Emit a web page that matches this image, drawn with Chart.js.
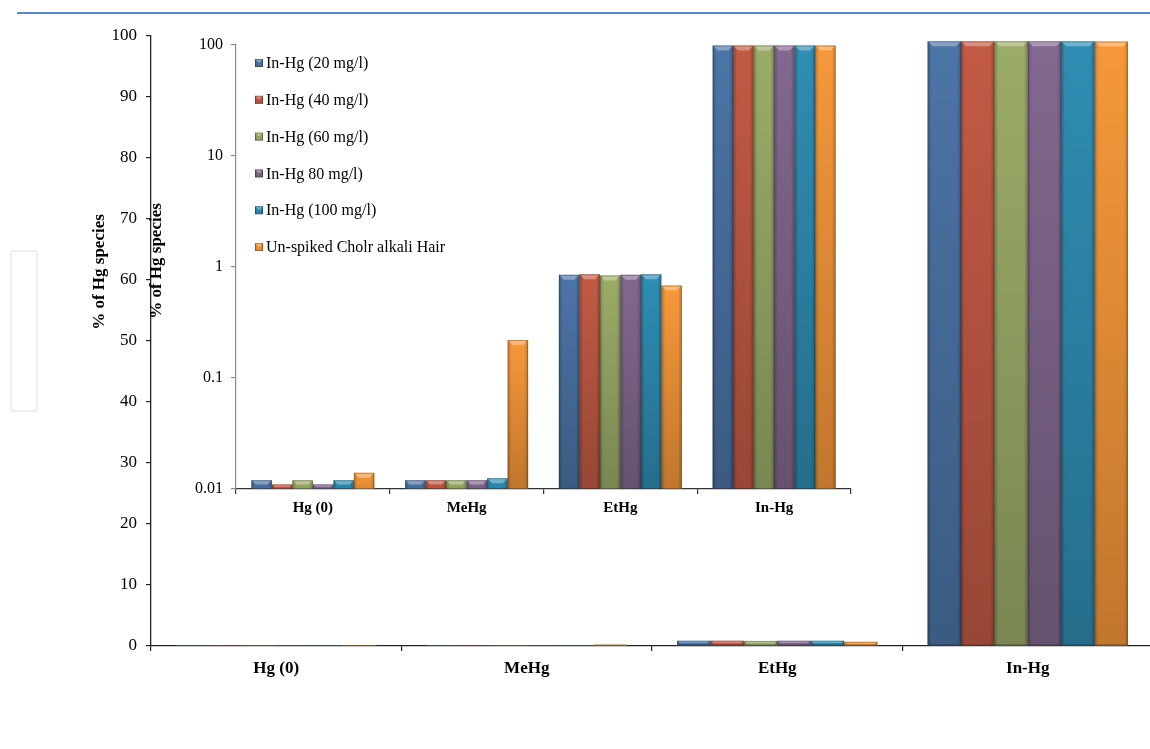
<!DOCTYPE html>
<html>
<head>
<meta charset="utf-8">
<script src="https://cdn.jsdelivr.net/npm/chart.js@4.4.1/dist/chart.umd.min.js"></script>
<style>
  html, body { margin: 0; padding: 0; background: #fff; overflow: hidden; width: 1150px; height: 749px; }
  #wrap { position: relative; width: 1150px; height: 749px; overflow: hidden; }
  #wrap canvas { position: absolute; left: 0; top: 0; }
  #rule { position: absolute; left: 17px; top: 12px; width: 1140px; border-top: 2px solid #5b86bf; }
  #tab { position: absolute; left: 10px; top: 250px; width: 24px; height: 158px; border: 2px solid #efefef; border-radius: 3px; }
</style>
</head>
<body>
<div id="wrap">
  <div id="rule"></div>
  <div id="tab"></div>
  <canvas id="main" width="1154" height="749"></canvas>
  <canvas id="inset" width="1150" height="749"></canvas>
</div>
<script>
// Hg species categories and the six sample series (% of total Hg)
const categories = ['Hg (0)', 'MeHg', 'EtHg', 'In-Hg'];
const seriesNames = ['In-Hg (20 mg/l)', 'In-Hg (40 mg/l)', 'In-Hg (60 mg/l)', 'In-Hg 80 mg/l)', 'In-Hg (100 mg/l)', 'Un-spiked Cholr alkali Hair'];
const inHg20  = [0.012, 0.012,  0.85, 99.13];
const inHg40  = [0.011, 0.012,  0.86, 99.12];
const inHg60  = [0.012, 0.012,  0.84, 99.14];
const inHg80  = [0.011, 0.012,  0.85, 99.13];
const inHg100 = [0.012, 0.0125, 0.86, 99.12];
const unspiked = [0.014, 0.22,  0.68, 99.09];
const linearTicks = [0, 10, 20, 30, 40, 50, 60, 70, 80, 90, 100];
const logTickValues = [0.01, 0.1, 1, 10, 100];
const logTickLabels = ['0.01', '0.1', '1', '10', '100'];
const axisTitle = '% of Hg species';

const seriesValues = [inHg20, inHg40, inHg60, inHg80, inHg100, unspiked];
const palette = ['#4c74a6', '#c25a45', '#9bac68', '#82688f', '#2f8db3', '#f6983a'];
const serif = '"Liberation Serif", "Times New Roman", serif';

function makeDatasets() {
  return seriesNames.map((name, i) => ({
    label: name,
    data: seriesValues[i],
    backgroundColor: palette[i],
    borderWidth: 0,
    categoryPercentage: 0.8,
    barPercentage: 1.0
  }));
}

// Bevelled face for a bar or legend swatch: darker towards the bottom, light top bevel, thin outline
function shadeBar(ctx, left, top, w, h) {
  if (h <= 0 || w <= 0) return;
  ctx.save();
  if (h > 3) {
    const g = ctx.createLinearGradient(0, top, 0, top + h);
    g.addColorStop(0, 'rgba(0,0,0,0)');
    g.addColorStop(1, 'rgba(0,0,0,' + Math.min(0.22, h / 400 + 0.06) + ')');
    ctx.fillStyle = g;
    ctx.fillRect(left, top, w, h);
    const side = Math.min(3, w / 6);
    ctx.fillStyle = 'rgba(0,0,0,0.10)';
    ctx.fillRect(left, top, side, h);
    ctx.fillRect(left + w - side, top, side, h);
  }
  const b = Math.max(1, Math.min(5, h / 2));
  ctx.beginPath();
  ctx.moveTo(left, top);
  ctx.lineTo(left + w, top);
  ctx.lineTo(left + w - b, top + b);
  ctx.lineTo(left + b, top + b);
  ctx.closePath();
  ctx.fillStyle = 'rgba(255,255,255,0.33)';
  ctx.fill();
  ctx.strokeStyle = 'rgba(0,0,0,0.28)';
  ctx.lineWidth = 1;
  ctx.strokeRect(left + 0.5, top + 0.5, w - 1, Math.max(0, h - 1));
  ctx.restore();
}

const bevelPlugin = {
  id: 'bevel',
  afterDatasetsDraw(chart) {
    const ctx = chart.ctx;
    const area = chart.chartArea;
    ctx.save();
    ctx.beginPath();
    ctx.rect(area.left, area.top - 2, area.right - area.left, area.bottom - area.top + 2);
    ctx.clip();
    chart.data.datasets.forEach((ds, i) => {
      chart.getDatasetMeta(i).data.forEach(bar => {
        const p = bar.getProps(['x', 'y', 'base', 'width'], true);
        const top = Math.min(p.y, p.base);
        const h = Math.abs(p.base - p.y);
        shadeBar(ctx, p.x - p.width / 2, top, p.width, h);
      });
    });
    ctx.restore();
  }
};

// Rotated value-axis title, placed beside the y axis
const sideTitle = {
  id: 'sideTitle',
  afterDraw(chart, args, opts) {
    const ctx = chart.ctx;
    const area = chart.chartArea;
    ctx.save();
    ctx.translate(area.left - opts.dx, area.top + opts.dy);
    ctx.rotate(-Math.PI / 2);
    ctx.font = 'bold ' + opts.size + 'px ' + serif;
    ctx.fillStyle = '#000';
    ctx.textAlign = 'center';
    ctx.textBaseline = 'middle';
    ctx.fillText(opts.text, 0, 0);
    ctx.restore();
  }
};

// Legend placed inside the inset plot, stacked down its left side
const insetLegend = {
  id: 'insetLegend',
  afterDraw(chart) {
    const ctx = chart.ctx;
    const area = chart.chartArea;
    ctx.save();
    ctx.font = '16px ' + serif;
    ctx.textBaseline = 'middle';
    ctx.textAlign = 'left';
    chart.data.datasets.forEach((ds, i) => {
      const x = area.left + 19;
      const y = area.top + 18 + i * 36.8;
      ctx.fillStyle = ds.backgroundColor;
      ctx.fillRect(x, y - 4, 8, 8);
      shadeBar(ctx, x, y - 4, 8, 8);
      ctx.fillStyle = '#000';
      ctx.fillText(ds.label, x + 11, y + 1);
    });
    ctx.restore();
  }
};

// Main chart: linear percentage axis
new Chart(document.getElementById('main'), {
  type: 'bar',
  data: { labels: categories, datasets: makeDatasets() },
  options: {
    responsive: false,
    animation: false,
    layout: { padding: { left: 82, top: 36, right: 1, bottom: 53 } },
    plugins: {
      legend: { display: false },
      tooltip: { enabled: false },
      sideTitle: { text: axisTitle, size: 17, dx: 51, dy: 236 }
    },
    scales: {
      x: {
        grid: { offset: true, drawOnChartArea: false, tickLength: 5, color: '#222', lineWidth: 1.2 },
        border: { color: '#222', width: 1.3 },
        ticks: { font: { family: serif, size: 17, weight: 'bold' }, color: '#000', padding: 7 },
        afterFit(s) { s.height = 50; }
      },
      y: {
        min: 0,
        max: 100,
        afterBuildTicks(s) { s.ticks = linearTicks.map(v => ({ value: v })); },
        ticks: { font: { family: serif, size: 17 }, color: '#000', padding: 9 },
        grid: { drawOnChartArea: false, tickLength: 5, color: '#222', lineWidth: 1.2 },
        border: { color: '#222', width: 1.3 },
        afterFit(s) { s.width = 69; }
      }
    }
  },
  plugins: [bevelPlugin, sideTitle]
});

// Inset chart: the same data on a logarithmic axis
new Chart(document.getElementById('inset'), {
  type: 'bar',
  data: { labels: categories, datasets: makeDatasets() },
  options: {
    responsive: false,
    animation: false,
    layout: { padding: { left: 140, top: 45, right: 299, bottom: 220 } },
    plugins: {
      legend: { display: false },
      tooltip: { enabled: false },
      sideTitle: { text: axisTitle, size: 17, dx: 79, dy: 216 }
    },
    scales: {
      x: {
        grid: { offset: true, drawOnChartArea: false, tickLength: 5, color: '#333', lineWidth: 1.2 },
        border: { color: '#333', width: 1.3 },
        ticks: { font: { family: serif, size: 15, weight: 'bold' }, color: '#000', padding: 5 },
        afterFit(s) { s.height = 40; }
      },
      y: {
        type: 'logarithmic',
        min: 0.01,
        max: 100,
        afterBuildTicks(s) { s.ticks = logTickValues.map(v => ({ value: v })); },
        ticks: { font: { family: serif, size: 16 }, color: '#000', padding: 8, callback: (v, i) => logTickLabels[i] },
        grid: { drawOnChartArea: false, tickLength: 5, color: '#8a8a8a', lineWidth: 1.2 },
        border: { color: '#8a8a8a', width: 1.2 },
        afterFit(s) { s.width = 96; }
      }
    }
  },
  plugins: [bevelPlugin, sideTitle, insetLegend]
});
</script>
</body>
</html>
